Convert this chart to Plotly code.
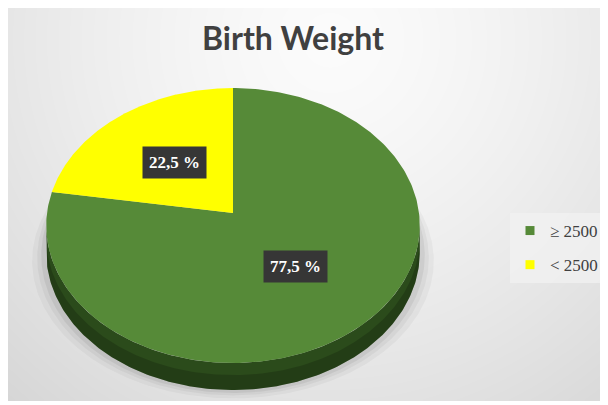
import numpy as np
import plotly.graph_objects as go

# ---- data ----
categories = ["≥ 2500", "< 2500"]
values = [77.5, 22.5]
colors = ["#568a38", "#ffff00"]
side_colors = ["#2b4b1b", "#9a9a00"]
chart_title = "Birth Weight"

# ---- geometry / style (page pixel space; page body has an 8px margin) ----
PAGE_W, PAGE_H = 608, 405
OFF = 8
W, H = PAGE_W - OFF, PAGE_H - OFF
CX, CY = 233, 213        # apex of the pie top face
RX = 186                 # horizontal radius
A, C = 117, -0.0909      # perspective parameters for vertical direction
DEPTH = 27


def proj(phi_deg, f=1.0):
    phi = np.radians(phi_deg)
    u = f * np.sin(phi)
    v = -f * np.cos(phi)
    d = 1 + C * v
    return CX + RX * u / d, (A * v + CY) / d


fig = go.Figure()

# background radial gradient
bx = np.linspace(8, PAGE_W, 122)
by = np.linspace(8, 399, 80)
BX, BY = np.meshgrid(bx, by)
dist = np.sqrt(((BX - 330) / 420) ** 2 + ((BY - 40) / 420) ** 2)
bz = np.clip(0.985 - 0.12 * dist ** 1.4, 0, 1)
fig.add_trace(go.Heatmap(x=bx, y=by, z=bz, zmin=0, zmax=1, zsmooth="best",
                         colorscale=[[0, "rgb(0,0,0)"], [1, "rgb(255,255,255)"]],
                         showscale=False, hoverinfo="skip"))

# soft shadow beneath the pie
grid = np.linspace(0, 360, 361)
for k, op in [(14, 0.035), (9, 0.045), (5, 0.06)]:
    sx, sy = proj(grid, 1.0)
    sx = CX + (sx - CX) * (1 + k / RX)
    sy = sy + DEPTH + k * 0.6
    fig.add_trace(go.Scatter(x=sx, y=sy, mode="lines", fill="toself",
                             fillcolor=f"rgba(0,0,0,{op})", line=dict(width=0),
                             showlegend=False, hoverinfo="skip"))

# front arc range (visible side)
gx, _ = proj(grid)
phi_R = grid[np.argmax(gx)]
phi_L = grid[np.argmin(gx)]

total = sum(values)
starts = np.cumsum([0] + values[:-1]) / total * 360
ends = np.cumsum(values) / total * 360

# sides
for s, e, sc in zip(starts, ends, side_colors):
    a, b = max(s, phi_R), min(e, phi_L)
    if a < b:
        ph = np.linspace(a, b, 200)
        tx, ty = proj(ph)
        px = np.concatenate([tx, tx[::-1]])
        py = np.concatenate([ty, (ty + DEPTH)[::-1]])
        fig.add_trace(go.Scatter(x=px, y=py, mode="lines", fill="toself",
                                 fillcolor=sc, line=dict(width=0, color=sc),
                                 showlegend=False, hoverinfo="skip"))
        py2 = np.concatenate([ty + DEPTH * 0.45, (ty + DEPTH)[::-1]])
        fig.add_trace(go.Scatter(x=px, y=py2, mode="lines", fill="toself",
                                 fillcolor="rgba(0,0,0,0.18)", line=dict(width=0),
                                 showlegend=False, hoverinfo="skip"))

# top faces
for cat, s, e, col in zip(categories, starts, ends, colors):
    ph = np.linspace(s, e, 300)
    tx, ty = proj(ph)
    px = np.concatenate([[CX], tx, [CX]])
    py = np.concatenate([[CY], ty, [CY]])
    fig.add_trace(go.Scatter(x=px, y=py, mode="lines", fill="toself",
                             fillcolor=col, line=dict(width=0, color=col),
                             name=cat, showlegend=False, hoverinfo="name"))

# legend entries
for i, (cat, col) in enumerate(zip(categories, colors)):
    fig.add_trace(go.Scatter(x=[None], y=[None], mode="markers", name=cat,
                             legendgroup=f"g{i}",
                             marker=dict(symbol="square", size=9, color=col)))

# data labels
for v, s, e in zip(values, starts, ends):
    lx, ly = proj((s + e) / 2, 0.5)
    fig.add_annotation(x=float(lx), y=float(ly), xref="x", yref="y",
                       text=f"<b>{v:.1f}".replace(".", ",") + " %</b>",
                       showarrow=False, bgcolor="#363636", borderpad=6,
                       font=dict(family="Liberation Serif, Times New Roman, serif",
                                 size=17, color="white"))

fig.update_layout(
    width=W, height=H, margin=dict(l=0, r=0, t=0, b=0),
    paper_bgcolor="white", plot_bgcolor="white",
    title=dict(text=f"<b>{chart_title}</b>", x=(293 - OFF) / W, xanchor="center",
               y=1 - (39 - OFF) / H, yanchor="middle",
               font=dict(family="Lato", size=32, color="#404040")),
    xaxis=dict(range=[OFF, PAGE_W], visible=False, fixedrange=True),
    yaxis=dict(range=[PAGE_H, OFF], visible=False, fixedrange=True),
    legend=dict(x=(510 - OFF) / W, y=1 - (213 - OFF) / H, xanchor="left", yanchor="top",
                bgcolor="rgba(242,242,242,0.7)", traceorder="grouped", tracegroupgap=9,
                font=dict(family="Liberation Serif, Times New Roman, serif",
                          size=17, color="#404040")),
    showlegend=True,
)

fig.write_html("out.html")
